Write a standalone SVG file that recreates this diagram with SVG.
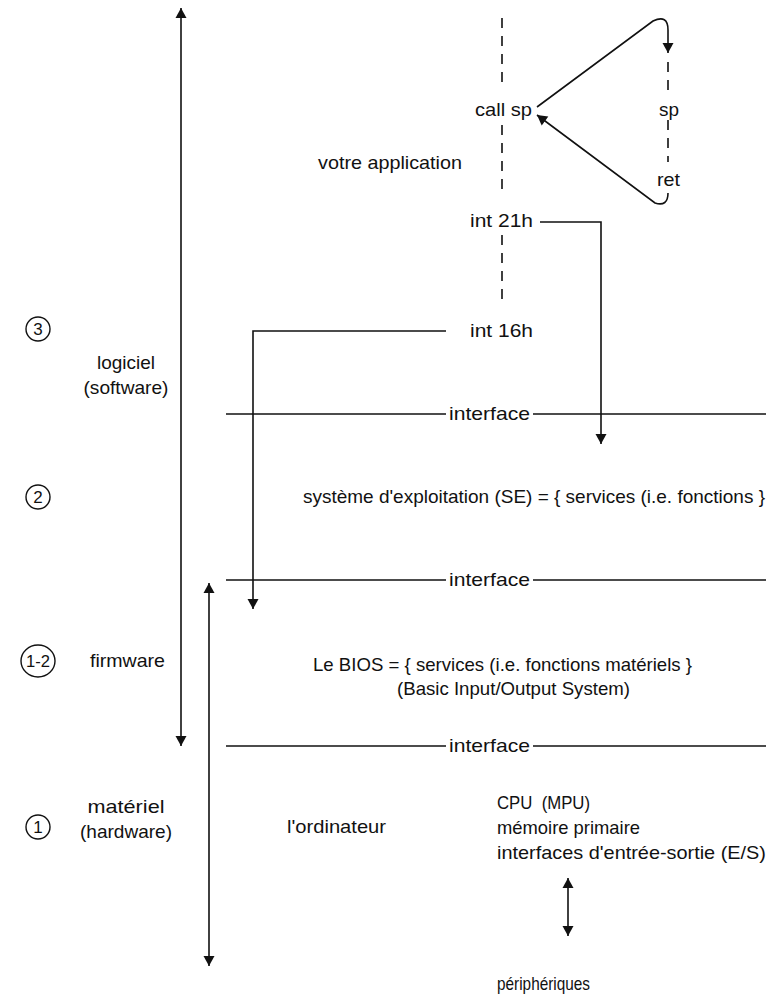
<svg xmlns="http://www.w3.org/2000/svg" width="766" height="1000" viewBox="0 0 766 1000">
<style>
text{font-family:"Liberation Sans",Arial,sans-serif;font-size:18.5px;fill:#111}
.ln{stroke:#111;stroke-width:1.6;fill:none}
.dash{stroke:#111;stroke-width:1.6;stroke-dasharray:10 8;fill:none}
.c{stroke:#111;stroke-width:1.4;fill:none}
.m{text-anchor:middle}
.n{font-size:17px}
</style>
<defs>
<marker id="ah" viewBox="0 0 10 12" refX="10" refY="6" markerWidth="11" markerHeight="12" markerUnits="userSpaceOnUse" orient="auto-start-reverse">
<path d="M0,0.5 L10,6 L0,11.5 Z" fill="#111"/>
</marker>
</defs>
<rect width="766" height="1000" fill="#fff"/>
<g id="connectors">
<line class="ln" x1="181" y1="746" x2="181" y2="8" marker-start="url(#ah)" marker-end="url(#ah)"/>
<line class="ln" x1="209" y1="583" x2="209" y2="966" marker-start="url(#ah)" marker-end="url(#ah)"/>
<path class="ln" d="M446,331 H253 V609" marker-end="url(#ah)"/>
<path class="ln" d="M540,222 H601 V444" marker-end="url(#ah)"/>
<line class="dash" x1="502" y1="18" x2="502" y2="88"/>
<line class="dash" x1="502" y1="125" x2="502" y2="195"/>
<line class="dash" x1="502" y1="235" x2="502" y2="305"/>
<line class="dash" x1="668" y1="62" x2="668" y2="96"/>
<line class="dash" x1="668" y1="120" x2="668" y2="162"/>
<path class="ln" d="M537,107 L653,21 Q668,14 668,30 V53" marker-end="url(#ah)"/>
<path class="ln" d="M668,193 Q668,207 655,203 L537,115" marker-end="url(#ah)"/>
<line class="ln" x1="568" y1="878" x2="568" y2="936" marker-start="url(#ah)" marker-end="url(#ah)"/>
</g>
<g id="iface1"><line class="ln" x1="226" y1="414" x2="446" y2="414"/><line class="ln" x1="533" y1="414" x2="766" y2="414"/><text x="449" y="420" textLength="81" lengthAdjust="spacingAndGlyphs">interface</text></g>
<g id="iface2"><line class="ln" x1="226" y1="580" x2="446" y2="580"/><line class="ln" x1="533" y1="580" x2="766" y2="580"/><text x="449" y="586" textLength="81" lengthAdjust="spacingAndGlyphs">interface</text></g>
<g id="iface3"><line class="ln" x1="226" y1="746" x2="446" y2="746"/><line class="ln" x1="533" y1="746" x2="766" y2="746"/><text x="449" y="752" textLength="81" lengthAdjust="spacingAndGlyphs">interface</text></g>
<g id="app">
<text x="318" y="169" textLength="144" lengthAdjust="spacingAndGlyphs">votre application</text>
<text x="475" y="116" textLength="57" lengthAdjust="spacingAndGlyphs">call sp</text>
<text x="659" y="116" textLength="20" lengthAdjust="spacingAndGlyphs">sp</text>
<text x="657" y="186" textLength="23" lengthAdjust="spacingAndGlyphs">ret</text>
<text x="470" y="227" textLength="63" lengthAdjust="spacingAndGlyphs">int 21h</text>
<text x="470" y="337" textLength="63" lengthAdjust="spacingAndGlyphs">int 16h</text>
</g>
<g id="level3">
<circle class="c" cx="38" cy="329" r="12"/><text class="m n" x="38" y="335">3</text>
<text class="m" x="126" y="369" textLength="58" lengthAdjust="spacingAndGlyphs">logiciel</text>
<text class="m" x="126" y="394" textLength="85" lengthAdjust="spacingAndGlyphs">(software)</text>
</g>
<g id="level2">
<circle class="c" cx="38" cy="497" r="12"/><text class="m n" x="38" y="503">2</text>
<text x="303" y="503" textLength="462" lengthAdjust="spacingAndGlyphs">système d'exploitation (SE) = { services (i.e. fonctions }</text>
</g>
<g id="level12">
<ellipse class="c" cx="38" cy="661" rx="17" ry="16"/><text class="m n" x="38" y="667" textLength="24" lengthAdjust="spacingAndGlyphs">1-2</text>
<text x="90" y="667" textLength="75" lengthAdjust="spacingAndGlyphs">firmware</text>
<text x="313" y="671" textLength="379" lengthAdjust="spacingAndGlyphs">Le BIOS = { services (i.e. fonctions matériels }</text>
<text x="397" y="695" textLength="233" lengthAdjust="spacingAndGlyphs">(Basic Input/Output System)</text>
</g>
<g id="level1">
<circle class="c" cx="38" cy="827" r="12"/><text class="m n" x="38" y="833">1</text>
<text class="m" x="126" y="813" textLength="77" lengthAdjust="spacingAndGlyphs">matériel</text>
<text class="m" x="126" y="838" textLength="92" lengthAdjust="spacingAndGlyphs">(hardware)</text>
<text x="287" y="833" textLength="99" lengthAdjust="spacingAndGlyphs">l'ordinateur</text>
<text x="497" y="809" textLength="93" lengthAdjust="spacingAndGlyphs" xml:space="preserve">CPU  (MPU)</text>
<text x="497" y="834" textLength="143" lengthAdjust="spacingAndGlyphs">mémoire primaire</text>
<text x="497" y="859" textLength="269" lengthAdjust="spacingAndGlyphs">interfaces d'entrée-sortie (E/S)</text>
<text x="497" y="990" textLength="93" lengthAdjust="spacingAndGlyphs">périphériques</text>
</g>
</svg>
